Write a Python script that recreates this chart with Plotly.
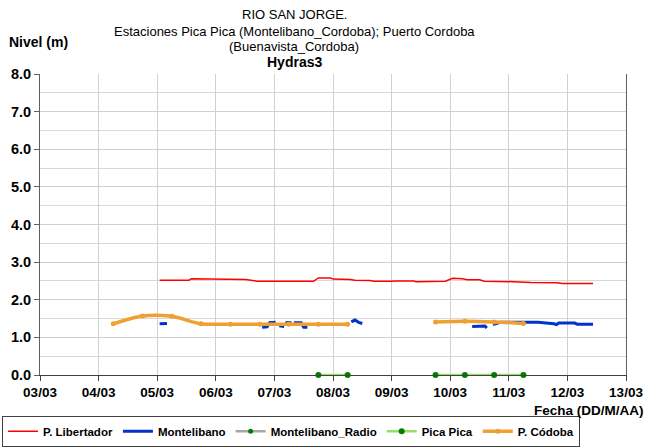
import plotly.graph_objects as go

# ---------------- data ----------------
lib_t = ["2019-03-05 01:00", "2019-03-05 13:00", "2019-03-05 14:00", "2019-03-05 22:00",
         "2019-03-05 23:00", "2019-03-06 12:00", "2019-03-06 13:00", "2019-03-06 17:00",
         "2019-03-07 16:00", "2019-03-07 18:00", "2019-03-07 23:00", "2019-03-08 00:00",
         "2019-03-08 07:00", "2019-03-08 09:00", "2019-03-08 15:00", "2019-03-08 17:00",
         "2019-03-09 00:00", "2019-03-09 02:00", "2019-03-09 09:00", "2019-03-09 10:00",
         "2019-03-09 22:00", "2019-03-10 01:00", "2019-03-10 05:00", "2019-03-10 07:00",
         "2019-03-10 12:00", "2019-03-10 14:00", "2019-03-11 02:00", "2019-03-11 09:00",
         "2019-03-11 20:00", "2019-03-11 22:00", "2019-03-12 10:30"]
lib_v = [2.52, 2.52, 2.56, 2.56, 2.54, 2.54, 2.53, 2.49, 2.49, 2.58, 2.58, 2.55,
         2.54, 2.52, 2.51, 2.49, 2.49, 2.50, 2.50, 2.48, 2.49, 2.57, 2.56, 2.53,
         2.53, 2.49, 2.48, 2.46, 2.45, 2.43, 2.43]

mon_t = ["2019-03-05 01:00", "2019-03-05 04:00", None,
         "2019-03-06 19:00", "2019-03-06 21:00", "2019-03-06 22:00", "2019-03-07 00:30", None,
         "2019-03-07 02:00", "2019-03-07 04:00", None,
         "2019-03-07 04:30", "2019-03-07 07:00", None,
         "2019-03-07 08:00", "2019-03-07 11:00", "2019-03-07 12:00", "2019-03-07 13:30", None,
         "2019-03-08 07:30", "2019-03-08 09:00", "2019-03-08 10:30", "2019-03-08 12:00", None,
         "2019-03-10 09:00", "2019-03-10 13:30", "2019-03-10 14:15", "2019-03-10 15:00", None,
         "2019-03-10 17:30", "2019-03-10 19:00", "2019-03-10 20:30", "2019-03-11 12:00",
         "2019-03-11 15:00", "2019-03-11 16:00", "2019-03-11 18:30", "2019-03-11 19:30",
         "2019-03-11 20:30", "2019-03-12 03:00", "2019-03-12 04:00", "2019-03-12 10:30"]
mon_v = [1.36, 1.37, None,
         1.27, 1.28, 1.39, 1.40, None,
         1.31, 1.29, None,
         1.39, 1.39, None,
         1.39, 1.39, 1.27, 1.27, None,
         1.41, 1.46, 1.40, 1.37, None,
         1.29, 1.29, 1.30, 1.25, None,
         1.34, 1.36, 1.40, 1.40,
         1.39, 1.37, 1.36, 1.34,
         1.38, 1.38, 1.35, 1.35]

# Montelibano_Radio: no readings visible in the period
radio_t = ["2019-03-03 00:00"]
radio_v = [None]

pica_t = ["2019-03-07 18:00", "2019-03-08 06:00", None,
          "2019-03-09 18:00", "2019-03-10 06:00", "2019-03-10 18:00", "2019-03-11 06:00"]
pica_v = [0.0, 0.0, None, 0.0, 0.0, 0.0, 0.0]

cor_t = ["2019-03-04 06:00", "2019-03-04 18:00", "2019-03-05 06:00", "2019-03-05 18:00",
         "2019-03-06 06:00", "2019-03-06 18:00", "2019-03-07 06:00", "2019-03-07 18:00",
         "2019-03-08 06:00", None,
         "2019-03-09 18:00", "2019-03-10 06:00", "2019-03-10 18:00", "2019-03-11 06:00"]
cor_v = [1.36, 1.57, 1.56, 1.36, 1.35, 1.35, 1.35, 1.35, 1.35, None,
         1.41, 1.43, 1.41, 1.37]

title_lines = ["RIO SAN JORGE.",
               "Estaciones Pica Pica (Montelibano_Cordoba); Puerto Cordoba",
               "(Buenavista_Cordoba)"]
subtitle = "Hydras3"
y_title = "Nivel (m)"
x_title = "Fecha (DD/M/AA)"

# ---------------- figure ----------------
SANS = "Liberation Sans, Arial, sans-serif"

fig = go.Figure()
fig.add_trace(go.Scatter(x=lib_t, y=lib_v, name="P. Libertador", mode="lines",
                         line=dict(color="#ff0000", width=1.5)))
fig.add_trace(go.Scatter(x=mon_t, y=mon_v, name="Montelibano", mode="lines",
                         line=dict(color="#0033cc", width=3)))
fig.add_trace(go.Scatter(x=radio_t, y=radio_v, name="Montelibano_Radio", mode="lines+markers",
                         line=dict(color="#a6a6a6", width=2.5),
                         marker=dict(color="#008000", size=5)))
fig.add_trace(go.Scatter(x=pica_t, y=pica_v, name="Pica Pica", mode="lines+markers",
                         line=dict(color="#99dd66", width=2.5),
                         marker=dict(color="#008000", size=6), cliponaxis=False))
fig.add_trace(go.Scatter(x=cor_t, y=cor_v, name="P. Códoba", mode="lines+markers",
                         line=dict(color="#f0a030", width=3.5, shape="spline", smoothing=0.8),
                         marker=dict(color="#f0a030", size=5)))

L, R, T, B = 40, 22, 74, 73
W, H = 648, 448
pw, ph = W - L - R, H - T - B

def px(xp):
    return (xp - L) / pw

def py(yp):
    return (H - B - yp) / ph

annots = []
for txt, yp in zip(title_lines, [15, 31, 46]):
    annots.append(dict(text=txt, x=px(294), y=py(yp), xref="paper", yref="paper",
                       showarrow=False, xanchor="center", yanchor="middle",
                       font=dict(family=SANS, size=13, color="#000000")))
annots.append(dict(text="<b>" + subtitle + "</b>", x=px(294), y=py(62), xref="paper", yref="paper",
                   showarrow=False, xanchor="center", yanchor="middle",
                   font=dict(family=SANS, size=14, color="#000000")))
annots.append(dict(text="<b>" + y_title + "</b>", x=px(7), y=py(42), xref="paper", yref="paper",
                   showarrow=False, xanchor="left", yanchor="middle",
                   font=dict(family=SANS, size=14, color="#000000")))
annots.append(dict(text="<b>" + x_title + "</b>", x=px(646), y=py(411), xref="paper", yref="paper",
                   showarrow=False, xanchor="right", yanchor="middle",
                   font=dict(family=SANS, size=13.5, color="#000000")))

fig.update_layout(
    width=W, height=H,
    margin=dict(l=L, r=R, t=T, b=B, pad=0, autoexpand=False),
    paper_bgcolor="#ffffff", plot_bgcolor="#ffffff",
    showlegend=True,
    legend=dict(orientation="h", xref="container", yref="container",
                x=0.003, y=0.003, xanchor="left", yanchor="bottom",
                bordercolor="#404040", borderwidth=1, bgcolor="#ffffff",
                font=dict(family=SANS, size=11.5, color="#000000", weight="bold"),
                itemwidth=30, tracegroupgap=0),
    annotations=annots,
    xaxis=dict(type="date", range=["2019-03-03", "2019-03-13"],
               tick0="2019-03-03", dtick=86400000, tickformat="%d/%m",
               showgrid=True, gridcolor="#d0d0d0", gridwidth=1,
               showline=True, linecolor="#404040", linewidth=1,
               ticks="outside", ticklen=5, tickcolor="#404040",
               tickfont=dict(family=SANS, size=13.5, color="#000000", weight="bold"),
               zeroline=False, automargin=False),
    yaxis=dict(range=[0, 8], dtick=1, tick0=0, tickformat=".1f",
               showgrid=True, gridcolor="#d0d0d0", gridwidth=1,
               minor=dict(dtick=0.5, showgrid=True, gridcolor="#d8d8d8", ticks=""),
               showline=True, linecolor="#606060", linewidth=1, mirror=True,
               ticks="outside", ticklen=5, tickcolor="#606060",
               tickfont=dict(family=SANS, size=14.5, color="#000000", weight="bold"),
               zeroline=False, automargin=False),
)

fig.write_html("out.html", config={"displayModeBar": False},
               post_script="document.body.style.margin='0';document.body.style.padding='0';")
